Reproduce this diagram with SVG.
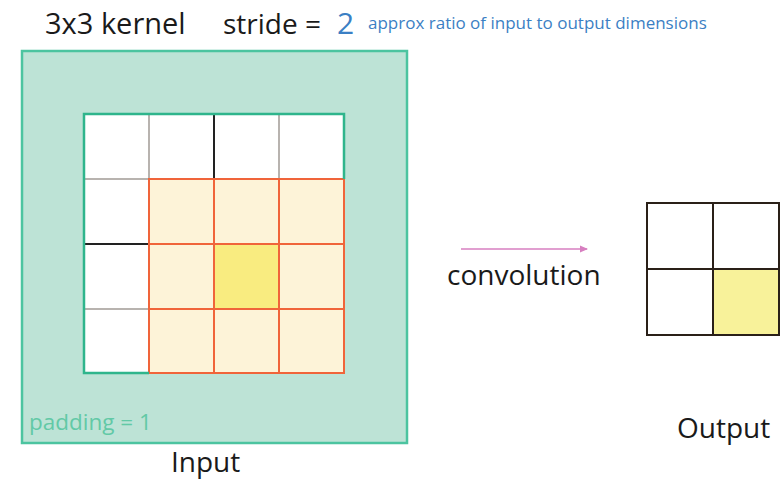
<svg xmlns="http://www.w3.org/2000/svg" width="783" height="483" viewBox="0 0 783 483">
<style>
text{font-family:"Open Sans","Noto Sans","Liberation Sans",sans-serif;}
.lbl{font-size:28px;fill:#1a1a1a;}
.gridg{stroke:#a09a94;stroke-width:1.5;}
.gridk{stroke:#222;stroke-width:2;}
.org{stroke:#f0643a;stroke-width:2;fill:none;}
.out{stroke:#2a2018;stroke-width:2;fill:none;}
</style>
<defs>
<marker id="ah" markerWidth="8" markerHeight="8" refX="7" refY="4" orient="auto" markerUnits="userSpaceOnUse">
<path d="M0,0.5 L8,4 L0,7.5 Z" fill="#d77fc0"/>
</marker>
</defs>
<rect width="783" height="483" fill="#fff"/>
<g id="header">
<text x="45" y="34" font-size="29" fill="#1a1a1a">3x3 kernel</text>
<text x="223" y="34" font-size="28" fill="#1a1a1a">stride =</text>
<text x="337" y="34" font-size="30" fill="#3b7fc4">2</text>
<text x="368" y="29" font-size="17" fill="#3b7fc4">approx ratio of input to output dimensions</text>
</g>
<g id="input">
<rect x="22" y="51" width="385" height="392" fill="#bde3d6" stroke="#4cc4a0" stroke-width="2.5"/>
<rect x="84" y="114" width="260" height="259" fill="#fff"/>
<rect x="149" y="179" width="195" height="194" fill="#fdf3d8"/>
<rect x="214" y="244" width="65" height="65" fill="#f9ec80"/>
<line class="gridg" x1="149" y1="114" x2="149" y2="179"/>
<line class="gridk" x1="214" y1="114" x2="214" y2="179"/>
<line class="gridg" x1="279" y1="114" x2="279" y2="179"/>
<line class="gridg" x1="84" y1="179" x2="149" y2="179"/>
<line class="gridk" x1="84" y1="244" x2="149" y2="244"/>
<line class="gridg" x1="84" y1="309" x2="149" y2="309"/>
<rect class="org" x="149" y="179" width="195" height="194"/>
<line class="org" x1="214" y1="179" x2="214" y2="373"/>
<line class="org" x1="279" y1="179" x2="279" y2="373"/>
<line class="org" x1="149" y1="244" x2="344" y2="244"/>
<line class="org" x1="149" y1="309" x2="344" y2="309"/>
<path d="M149,373 H84 V114 H344 V179" fill="none" stroke="#2fb58c" stroke-width="2.5"/>
<text x="29" y="430" font-size="22.5" fill="#62c9a6">padding = 1</text>
<text class="lbl" x="171" y="472">Input</text>
</g>
<g id="output">
<rect x="713" y="269" width="66" height="66" fill="#f8f29a"/>
<rect class="out" x="647" y="203" width="132" height="132"/>
<line class="out" x1="713" y1="203" x2="713" y2="335"/>
<line class="out" x1="647" y1="269" x2="779" y2="269"/>
<text class="lbl" x="677" y="438">Output</text>
</g>
<g id="connectors">
<line x1="461" y1="249" x2="587" y2="249" stroke="#d77fc0" stroke-width="1.5" marker-end="url(#ah)"/>
<text class="lbl" x="447" y="285">convolution</text>
</g>
</svg>
